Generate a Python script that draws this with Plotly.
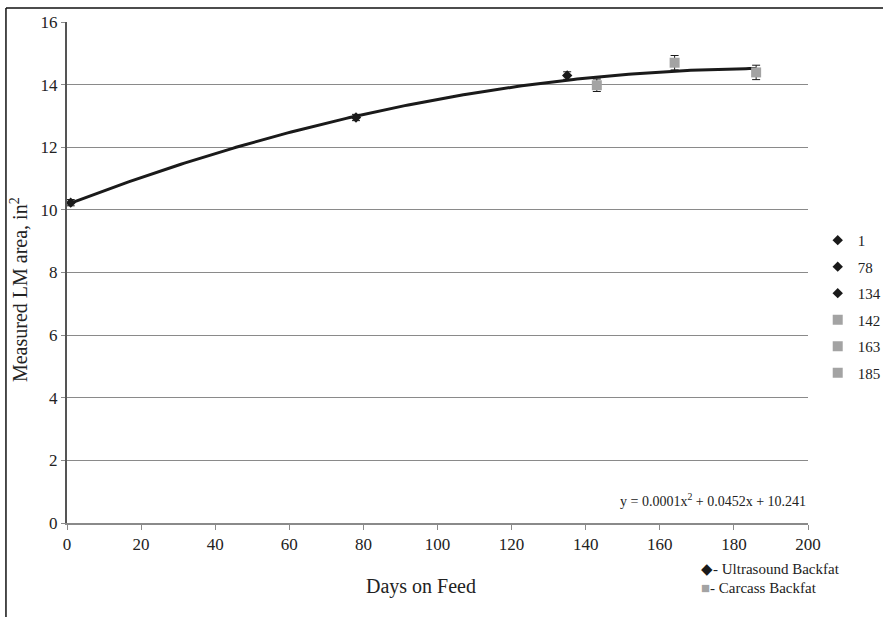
import numpy as np
import plotly.graph_objects as go

# ---- data ----
labels = ["1", "78", "134", "142", "163", "185"]
days = [1, 78, 135, 143, 164, 186]
lm_area = [10.23, 12.95, 14.29, 13.98, 14.70, 14.39]
lm_err = [0.10, 0.10, 0.12, 0.20, 0.23, 0.23]
groups = ["us", "us", "us", "cc", "cc", "cc"]
equation_text = "y = 0.0001x<sup>2</sup> + 0.0452x + 10.241"
x_ticks = [0, 20, 40, 60, 80, 100, 120, 140, 160, 180, 200]
y_ticks = [0, 2, 4, 6, 8, 10, 12, 14, 16]

FONT = "Liberation Serif"
BLACK = "#1a1a1a"
GREY = "#a3a3a3"
GRID = "#8a8a8a"
TXT = "#222222"

fig = go.Figure()

# polynomial (order 2) trendline fitted on the measured points
coef = np.polyfit(days, lm_area, 2)
xs = np.linspace(min(days), max(days), 200)
fig.add_trace(go.Scatter(x=xs, y=np.polyval(coef, xs), mode="lines",
                         line=dict(color=BLACK, width=3), showlegend=False,
                         hoverinfo="skip"))

for lab, d, v, e, g in zip(labels, days, lm_area, lm_err, groups):
    if g == "us":
        mk = dict(symbol="diamond", size=8, color=BLACK)
    else:
        mk = dict(symbol="square", size=10, color=GREY)
    fig.add_trace(go.Scatter(
        x=[d], y=[v], mode="markers", name=lab, marker=mk,
        legendgroup=lab,
        error_y=dict(type="data", array=[e], color=BLACK, thickness=1, width=4),
    ))

fig.update_layout(
    width=883, height=617,
    margin=dict(l=67, r=0, t=22, b=94, autoexpand=False),
    paper_bgcolor="white", plot_bgcolor="white",
    font=dict(family=FONT, color=TXT, size=15),
    legend=dict(x=0.920, y=0.597, xanchor="left", yanchor="top",
                font=dict(size=15, family=FONT, color=TXT), tracegroupgap=4,
                itemwidth=30, bgcolor="rgba(0,0,0,0)"),
    showlegend=True,
)

fig.update_xaxes(domain=[0, 741 / 816], range=[0, 200], tickvals=x_ticks,
                 ticks="outside", ticklen=5, tickcolor=GRID, showgrid=False,
                 showline=True, linecolor=GRID, linewidth=1.5, zeroline=False,
                 tickfont=dict(size=17, family=FONT, color=TXT), automargin=False)
fig.update_yaxes(range=[0, 16], tickvals=y_ticks, ticks="outside", ticklen=4,
                 tickcolor=GRID, showgrid=True, gridcolor=GRID, gridwidth=1,
                 showline=True, linecolor="#555", linewidth=2, zeroline=False,
                 tickfont=dict(size=17, family=FONT, color=TXT), automargin=False)

# axis titles
fig.add_annotation(xref="paper", yref="paper", x=0.434, y=-0.1277,
                   text="Days on Feed", showarrow=False, xanchor="center",
                   yanchor="middle", font=dict(size=20, family=FONT, color=TXT))
fig.add_annotation(xref="paper", yref="paper", x=-0.0588, y=0.465,
                   text="Measured LM area, in<sup>2</sup>", showarrow=False,
                   textangle=-90, xanchor="center", yanchor="middle",
                   font=dict(size=20, family=FONT, color=TXT))

# equation label
fig.add_annotation(xref="x", yref="y", x=200, y=0.73, text=equation_text,
                   showarrow=False, xanchor="right", yanchor="middle",
                   font=dict(size=14, family=FONT, color=TXT))

# series key below the plot
fig.add_annotation(xref="paper", yref="paper", x=0.7745, y=-0.0918,
                   text="<span style='color:%s'>◆</span>- Ultrasound Backfat" % BLACK,
                   showarrow=False, xanchor="left", yanchor="middle",
                   font=dict(size=15, family=FONT, color=TXT))
fig.add_annotation(xref="paper", yref="paper", x=0.7745, y=-0.1297,
                   text="<span style='color:%s'>■</span>- Carcass Backfat" % GREY,
                   showarrow=False, xanchor="left", yanchor="middle",
                   font=dict(size=15, family=FONT, color=TXT))

# outer frame (top and left edges)
fig.add_shape(type="line", xref="paper", yref="paper", x0=-0.0748, x1=1.0,
              y0=1.028, y1=1.028, line=dict(color="#111", width=1.5))
fig.add_shape(type="line", xref="paper", yref="paper", x0=-0.0748, x1=-0.0748,
              y0=1.028, y1=-0.2, line=dict(color="#111", width=1.5))

# the page's default 8px body margin would push the figure off the window
fig.write_html("out.html", config={"displayModeBar": False},
               post_script="document.body.style.margin='0px';")
